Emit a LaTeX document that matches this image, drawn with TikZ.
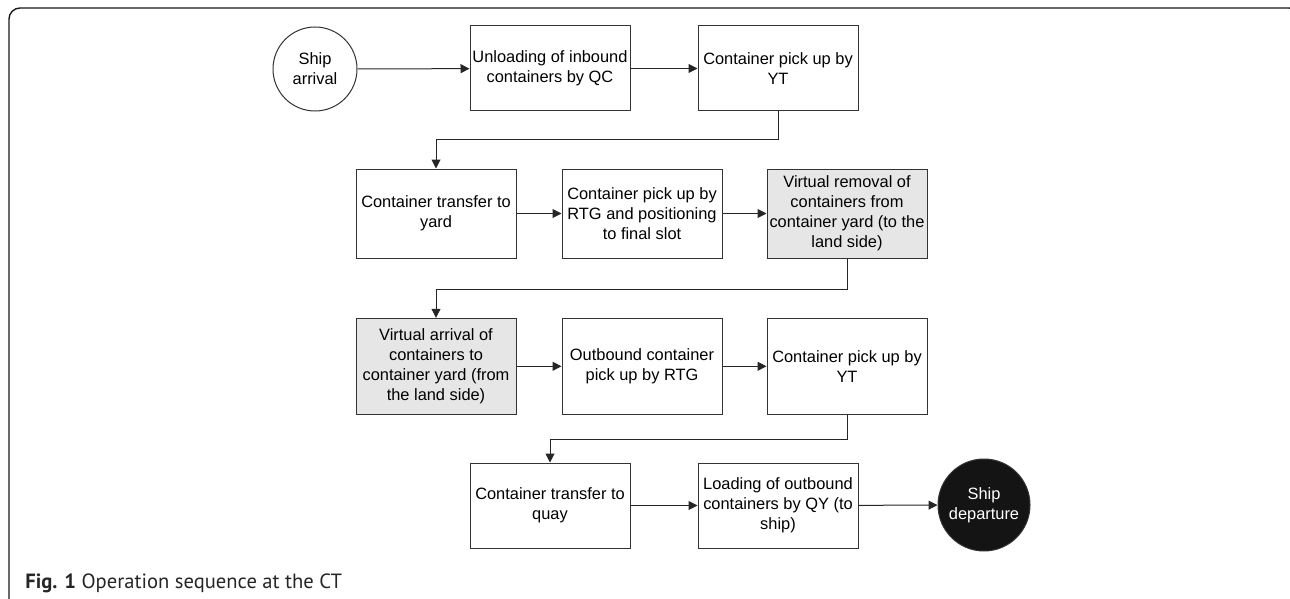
\documentclass[tikz,border=0pt]{standalone}
\usepackage{fontspec}
\setmainfont{Liberation Sans}
\newfontfamily\capfont{PT Sans}
\usetikzlibrary{arrows.meta}
\definecolor{boxgray}{HTML}{E6E6E6}
\definecolor{linegray}{HTML}{333333}
\tikzset{
  stepbox/.style={draw=linegray, line width=0.5pt, minimum width=80pt, align=center, inner sep=1pt, font=\fontsize{8.2}{10}\selectfont},
  virtual/.style={stepbox, fill=boxgray},
  event/.style={circle, draw=linegray, line width=0.5pt, align=center, inner sep=0pt, font=\fontsize{8.2}{10}\selectfont},
  flow/.style={-{Triangle[length=4.5pt,width=4.5pt]}, line width=0.5pt, draw=black!85},
}

\begin{document}
\begin{tikzpicture}[x=0.5pt, y=-0.5pt]
    \useasboundingbox (0,0) rectangle (1290,599);
    \begin{scope}
    \clip (0,0) rectangle (1290,599);
    \draw[line width=0.7pt, black!90, rounded corners=5.5pt] (9,8) rectangle (1300,610);
    \end{scope}
    % row 1
    \node[event, minimum size=42pt] (arr) at (315,69) {Ship\\arrival};
    \node[stepbox, minimum height=42.5pt] (unl) at (550,68.5) {Unloading of inbound\\containers by QC};
    \node[stepbox, minimum height=42.5pt] (ytin) at (778,68.5) {Container pick up by\\YT};
    % row 2
    \node[stepbox, minimum height=44.5pt] (tyard) at (436,213.5) {Container transfer to\\yard};
    \node[stepbox, minimum height=44.5pt] (rtgin) at (642,213.5) {Container pick up by\\RTG and positioning\\to final slot};
    \node[virtual, minimum height=44.5pt] (vrem) at (847,213.5) {Virtual removal of\\containers from\\container yard (to the\\land side)};
    % row 3
    \node[virtual, minimum height=48pt] (varr) at (436,366.3) {Virtual arrival of\\containers to\\container yard (from\\the land side)};
    \node[stepbox, minimum height=48pt] (rtgout) at (642,366.3) {Outbound container\\pick up by RTG};
    \node[stepbox, minimum height=48pt] (ytout) at (847,366.3) {Container pick up by\\YT};
    % row 4
    \node[stepbox, minimum height=42.5pt] (tquay) at (550,505.5) {Container transfer to\\quay};
    \node[stepbox, minimum height=42.5pt] (load) at (778,505.5) {Loading of outbound\\containers by QY (to\\ship)};
    \node[event, minimum size=46pt, fill=black!92, text=white] (dep) at (984,505) {Ship\\departure};
    % turns between rows
    \coordinate (k1) at (0,140);
    \coordinate (k2) at (0,289);
    \coordinate (k3) at (0,439);
    \draw[flow] (arr) -- (unl);
    \draw[flow] (unl) -- (ytin);
    \draw[flow] (ytin.south) -- (ytin.south |- k1) -| (tyard.north);
    \draw[flow] (tyard) -- (rtgin);
    \draw[flow] (rtgin) -- (vrem);
    \draw[flow] (vrem.south) -- (vrem.south |- k2) -| (varr.north);
    \draw[flow] (varr) -- (rtgout);
    \draw[flow] (rtgout) -- (ytout);
    \draw[flow] (ytout.south) -- (ytout.south |- k3) -| (tquay.north);
    \draw[flow] (tquay) -- (load);
    \draw[flow] (load) -- (dep);
    \node[anchor=base west, inner sep=0pt, text=black!85, font=\capfont\fontsize{10.3}{11}\selectfont] (cap) at (25,588) {\textbf{Fig. 1} Operation sequence at the CT};
\end{tikzpicture}
\end{document}
